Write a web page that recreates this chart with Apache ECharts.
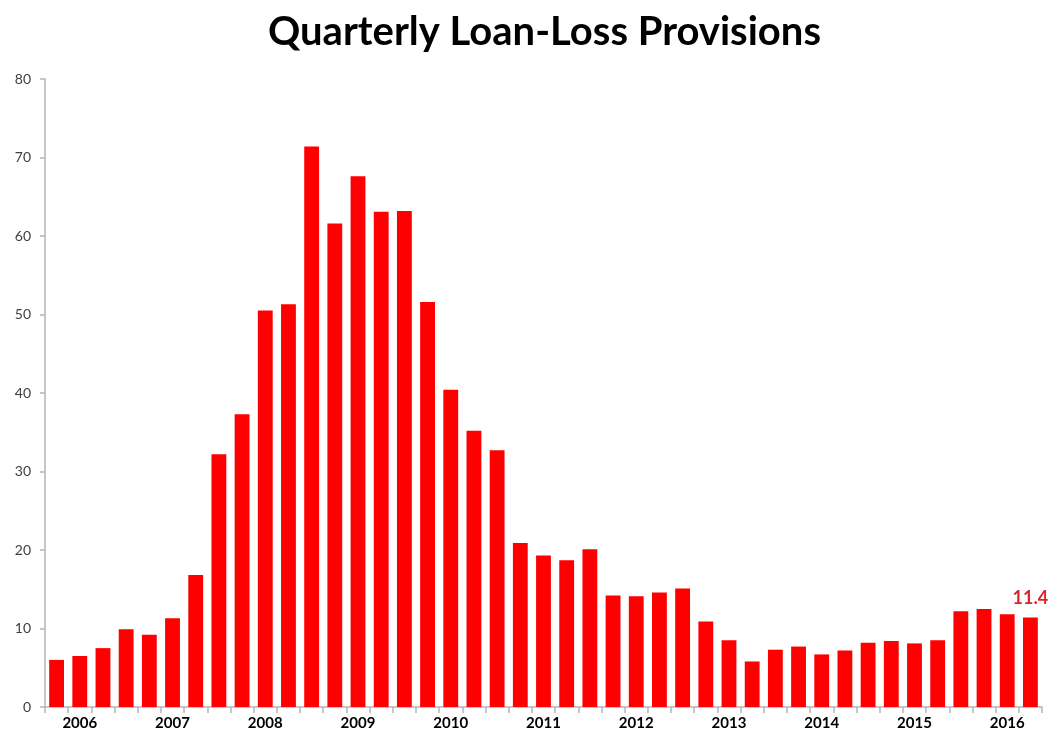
<!DOCTYPE html>
<html>
<head>
<meta charset="utf-8">
<style>
  html, body { margin: 0; padding: 0; background: #ffffff; }
  #chart { width: 1048px; height: 738px; }
</style>
<script src="https://cdn.jsdelivr.net/npm/echarts@6/dist/echarts.min.js"></script>
</head>
<body>
<div id="chart"></div>
<script>
// Quarters from 2005 Q4 through 2016 Q2
const quarters = [
  '2005 Q4',
  '2006 Q1', '2006 Q2', '2006 Q3', '2006 Q4',
  '2007 Q1', '2007 Q2', '2007 Q3', '2007 Q4',
  '2008 Q1', '2008 Q2', '2008 Q3', '2008 Q4',
  '2009 Q1', '2009 Q2', '2009 Q3', '2009 Q4',
  '2010 Q1', '2010 Q2', '2010 Q3', '2010 Q4',
  '2011 Q1', '2011 Q2', '2011 Q3', '2011 Q4',
  '2012 Q1', '2012 Q2', '2012 Q3', '2012 Q4',
  '2013 Q1', '2013 Q2', '2013 Q3', '2013 Q4',
  '2014 Q1', '2014 Q2', '2014 Q3', '2014 Q4',
  '2015 Q1', '2015 Q2', '2015 Q3', '2015 Q4',
  '2016 Q1', '2016 Q2'
];

// Loan-loss provisions per quarter ($ billions)
const provisions = [
  6.0,
  6.5, 7.5, 9.9, 9.2,
  11.3, 16.8, 32.2, 37.3,
  50.5, 51.3, 71.4, 61.6,
  67.6, 63.1, 63.2, 51.6,
  40.4, 35.2, 32.7, 20.9,
  19.3, 18.7, 20.1, 14.2,
  14.1, 14.6, 15.1, 10.9,
  8.5, 5.8, 7.3, 7.7,
  6.7, 7.2, 8.2, 8.4,
  8.1, 8.5, 12.2, 12.5,
  11.8, 11.4
];

const yTicks = [0, 10, 20, 30, 40, 50, 60, 70, 80];
const titleText = 'Quarterly Loan-Loss Provisions';

const chart = echarts.init(document.getElementById('chart'), null, { renderer: 'canvas' });

const lastIndex = provisions.length - 1;
const barData = provisions.map((v, i) => i === lastIndex
  ? {
      value: v,
      label: {
        show: true,
        position: 'top',
        distance: 10,
        color: '#e0232b',
        fontFamily: 'Lato',
        fontWeight: 'bold',
        fontSize: 18,
        formatter: p => p.value.toFixed(1)
      }
    }
  : v);

chart.setOption({
  animation: false,
  backgroundColor: '#ffffff',
  title: {
    text: titleText,
    left: 268,
    top: 12,
    padding: 0,
    textStyle: {
      fontFamily: 'Lato',
      fontWeight: 'bold',
      fontSize: 40,
      color: '#000000'
    }
  },
  grid: { left: 45, right: 6, top: 79, bottom: 31, containLabel: false },
  xAxis: {
    type: 'category',
    data: quarters,
    boundaryGap: true,
    axisLine: { show: true, lineStyle: { color: '#b5b5b5', width: 1.5 } },
    axisTick: { show: true, interval: 0, length: 6, lineStyle: { color: '#b5b5b5', width: 1.5 } },
    axisLabel: {
      interval: (idx) => idx % 4 === 1,
      formatter: (val) => val.slice(0, 4),
      margin: 9,
      fontFamily: 'Lato',
      fontWeight: 'bold',
      fontSize: 15,
      color: '#000000'
    },
    splitLine: { show: false }
  },
  yAxis: {
    type: 'value',
    min: yTicks[0],
    max: yTicks[yTicks.length - 1],
    interval: yTicks[1] - yTicks[0],
    axisLine: { show: true, lineStyle: { color: '#b5b5b5', width: 1.5 } },
    axisTick: { show: true, inside: false, length: 5, lineStyle: { color: '#b5b5b5', width: 1.5 } },
    axisLabel: {
      margin: 14,
      fontFamily: 'Lato',
      fontSize: 14,
      color: '#404040'
    },
    splitLine: { show: false }
  },
  series: [{
    type: 'bar',
    data: barData,
    barCategoryGap: '36%',
    itemStyle: { color: '#ff0000' }
  }]
});
</script>
</body>
</html>
